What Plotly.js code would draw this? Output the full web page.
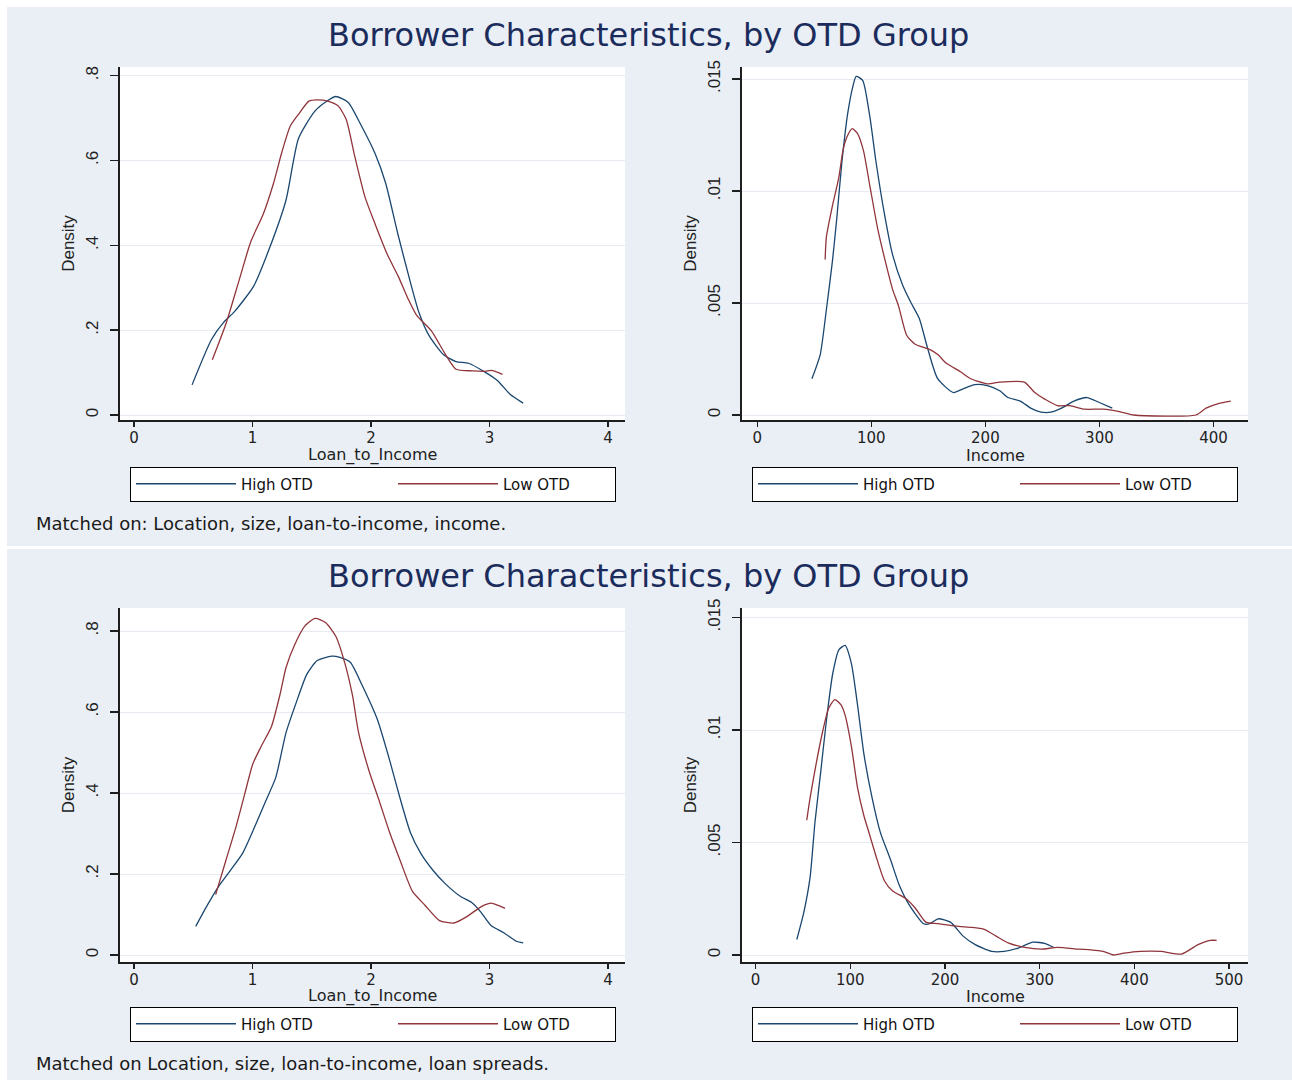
<!DOCTYPE html>
<html>
<head>
<meta charset="utf-8">
<script src="https://cdn.plot.ly/plotly-3.0.1.min.js"></script>
<style>
  html, body { margin: 0; padding: 0; background: #ffffff; }
  #chart { width: 1292px; height: 1080px; }
</style>
</head>
<body>
<div id="chart"></div>
<script>
// ---------------- DATA ----------------
const chartTitle = "Borrower Characteristics, by OTD Group";
const seriesNames = ["High OTD", "Low OTD"];
const noteTop = "Matched on: Location, size, loan-to-income, income.";
const noteBottom = "Matched on Location, size, loan-to-income, loan spreads.";
const xTitleLTI = "Loan_to_Income";
const xTitleIncome = "Income";
const yTitle = "Density";

const ltiTickVals = [0, 1, 2, 3, 4];
const ltiTickText = ["0", "1", "2", "3", "4"];
const ltiDensTickVals = [0, 0.2, 0.4, 0.6, 0.8];
const ltiDensTickText = ["0", ".2", ".4", ".6", ".8"];
const incTickValsTop = [0, 100, 200, 300, 400];
const incTickTextTop = ["0", "100", "200", "300", "400"];
const incTickValsBot = [0, 100, 200, 300, 400, 500];
const incTickTextBot = ["0", "100", "200", "300", "400", "500"];
const incDensTickVals = [0, 0.005, 0.01, 0.015];
const incDensTickText = ["0", ".005", ".01", ".015"];

// Top panel, Loan_to_Income
const tlHighX = [0.49,0.654,0.758,0.846,1.01,1.143,1.283,1.388,1.528,1.633,1.703,1.808,1.913,2.035,2.123,2.228,2.333,2.403,2.49,2.613,2.717,2.823,2.962,3.068,3.173,3.284];
const tlHighY = [0.071,0.178,0.219,0.243,0.304,0.393,0.507,0.652,0.717,0.741,0.751,0.737,0.685,0.616,0.547,0.425,0.312,0.243,0.187,0.142,0.126,0.122,0.101,0.081,0.049,0.028];
const tlLowX = [0.661,0.776,0.881,0.986,1.091,1.178,1.248,1.318,1.388,1.476,1.546,1.633,1.721,1.791,1.861,1.948,2.035,2.14,2.228,2.316,2.385,2.508,2.63,2.717,2.857,2.962,3.015,3.11];
const tlLowY = [0.130,0.215,0.312,0.409,0.474,0.547,0.620,0.681,0.709,0.740,0.743,0.740,0.729,0.697,0.612,0.515,0.450,0.377,0.328,0.272,0.235,0.199,0.142,0.108,0.104,0.103,0.105,0.096];

// Top panel, Income
const trHighX = [47.9,55.2,60.6,65.9,69.6,74.3,79.4,84.1,86.7,92.4,98.6,104,111.3,118.5,127.5,134.7,142,149.2,158.2,172,180,190.8,201.7,212.6,219.8,230.7,239.7,248.7,257.7,266.8,277.6,289.2,299.4,311.3];
const trHighY = [0.00162,0.0027,0.00471,0.00687,0.00872,0.01134,0.0135,0.01473,0.01512,0.01494,0.01335,0.01134,0.00903,0.00718,0.00579,0.00502,0.00432,0.00301,0.00162,0.001,0.00116,0.00136,0.00131,0.00108,0.00078,0.00062,0.00031,0.00013,0.00013,0.00031,0.00062,0.00078,0.00057,0.00031];
const trLowX = [59.5,60.6,65.9,71.4,75.1,78.7,83.3,87.7,93.1,98.6,105.8,113,118.5,123.9,131.1,138.4,151,158.3,165.5,178.2,187.2,201.7,212.6,234.2,243.3,252.4,263.2,274,286.7,303,317.5,330.2,384.5,393.5,404.3,415.2];
const trLowY = [0.00694,0.00795,0.00934,0.01057,0.0118,0.01242,0.01278,0.01258,0.0118,0.01026,0.00826,0.00671,0.00563,0.00486,0.00355,0.00316,0.00293,0.0027,0.00232,0.00193,0.00162,0.00139,0.00147,0.00147,0.001,0.0007,0.00042,0.00042,0.00026,0.00026,0.00015,0,0,0.00031,0.00051,0.00062];

// Bottom panel, Loan_to_Income
const blHighX = [0.521,0.619,0.706,0.811,0.916,1.003,1.108,1.196,1.283,1.371,1.458,1.546,1.668,1.738,1.825,1.93,2.053,2.158,2.245,2.333,2.42,2.526,2.63,2.753,2.857,2.927,3.015,3.12,3.225,3.284];
const blHighY = [0.0706,0.123,0.166,0.208,0.251,0.306,0.378,0.438,0.549,0.625,0.693,0.727,0.738,0.735,0.723,0.663,0.582,0.48,0.387,0.302,0.251,0.208,0.175,0.145,0.128,0.106,0.072,0.055,0.034,0.03];
const blLowX = [0.689,0.776,0.863,0.933,1.003,1.073,1.161,1.231,1.283,1.354,1.441,1.528,1.616,1.703,1.773,1.843,1.895,1.983,2.071,2.158,2.245,2.35,2.455,2.578,2.7,2.805,2.927,3.015,3.068,3.131];
const blLowY = [0.149,0.234,0.319,0.396,0.472,0.515,0.565,0.642,0.71,0.765,0.812,0.831,0.821,0.787,0.727,0.642,0.549,0.455,0.379,0.302,0.234,0.157,0.123,0.085,0.079,0.094,0.119,0.128,0.123,0.115];

// Bottom panel, Income
const brHighX = [43.5,51,57.5,62.7,68.5,75,81.4,88,94.5,101.1,107.6,114.2,123,131.7,142.6,151.3,162.2,177.4,183.9,192.7,205.8,218.8,231.9,249.3,262.4,277.6,292.9,306,314.7];
const brHighY = [0.00069,0.00192,0.00345,0.00591,0.00805,0.01051,0.0125,0.01357,0.01376,0.01296,0.01112,0.00897,0.00698,0.00545,0.00422,0.00315,0.00223,0.00139,0.00139,0.00161,0.00146,0.00085,0.00046,0.00016,0.00016,0.00031,0.00057,0.00051,0.00034];
const brLowX = [54,57.5,64,70.6,77.1,83.7,90.2,94.5,101.1,107.6,114.2,120.7,127.3,136,144.7,157.8,168.7,179.7,192.7,214.5,227.6,240.7,253.6,266.7,284.2,301.6,319,340.9,353.9,367,377.9,388.8,406.3,428.1,449.8,467.2,480.3,486.9];
const brLowY = [0.00599,0.00698,0.00852,0.0099,0.01097,0.01135,0.01112,0.01066,0.00928,0.00744,0.00621,0.0053,0.00437,0.0033,0.00284,0.00253,0.00208,0.00146,0.00139,0.00127,0.00123,0.00115,0.00085,0.00054,0.00034,0.00026,0.00034,0.00026,0.00023,0.00016,0,0.00008,0.00016,0.00016,0.00004,0.00046,0.00065,0.00065];

// ---------------- STYLE ----------------
const W = 1292, H = 1080;
const FONT = "DejaVu Sans, Verdana, sans-serif";
const NARROW = "Liberation Sans Narrow, Liberation Sans, Arial, sans-serif";
const BLUE = "#1a476f";
const RED = "#90353b";
const PANEL = "#eaeff5";
const GRID = "#e6ebf1";
const AX = "#1e1e1e";
const fx = p => p / W;
const fy = p => 1 - p / H;

function line(x, y, name, color, xa, ya, legendId, lw) {
  return {
    type: "scatter", mode: "lines", x: x, y: y, name: name,
    xaxis: xa, yaxis: ya, legend: legendId, legendwidth: lw,
    line: { color: color, width: 1.3, shape: "spline", smoothing: 0.6 },
    hoverinfo: "skip"
  };
}

const traces = [
  line(tlHighX, tlHighY, seriesNames[0], BLUE, "x", "y", "legend", 147),
  line(tlLowX, tlLowY, seriesNames[1], RED, "x", "y", "legend", 107),
  line(trHighX, trHighY, seriesNames[0], BLUE, "x2", "y2", "legend2", 147),
  line(trLowX, trLowY, seriesNames[1], RED, "x2", "y2", "legend2", 107),
  line(blHighX, blHighY, seriesNames[0], BLUE, "x3", "y3", "legend3", 147),
  line(blLowX, blLowY, seriesNames[1], RED, "x3", "y3", "legend3", 107),
  line(brHighX, brHighY, seriesNames[0], BLUE, "x4", "y4", "legend4", 147),
  line(brLowX, brLowY, seriesNames[1], RED, "x4", "y4", "legend4", 107)
];

function xAxis(domainPx, range, tv, tt, anchor) {
  return {
    domain: [fx(domainPx[0]), fx(domainPx[1])], anchor: anchor, range: range,
    tickmode: "array", tickvals: tv, ticktext: tt,
    showgrid: false, zeroline: false, showline: true, linecolor: AX, linewidth: 1.5,
    ticks: "outside", ticklen: 5, tickwidth: 1.5, tickcolor: AX, ticklabelstandoff: -2,
    tickfont: { family: FONT, size: 15, color: "#222" },
    fixedrange: true
  };
}
function yAxis(domainPx, range, tv, tt, anchor) {
  return {
    domain: [fy(domainPx[1]), fy(domainPx[0])], anchor: anchor, range: range,
    tickmode: "array", tickvals: tv, ticktext: tt, tickangle: -90,
    showgrid: true, gridcolor: GRID, gridwidth: 1,
    zeroline: false, showline: true, linecolor: AX, linewidth: 2,
    ticks: "outside", ticklen: 8, tickwidth: 1.5, tickcolor: AX, ticklabelstandoff: 5,
    tickfont: { family: NARROW, size: 17, color: "#222" },
    title: { text: yTitle, font: { family: NARROW, size: 17, color: "#222" }, standoff: 4 },
    fixedrange: true
  };
}
function legendAt(xPx, yCenterPx) {
  return {
    x: fx(xPx), y: fy(yCenterPx), xanchor: "left", yanchor: "middle",
    orientation: "h", bgcolor: "#ffffff", bordercolor: "#000000", borderwidth: 1,
    font: { family: FONT, size: 15, color: "#111" }, itemwidth: 100,
    traceorder: "normal", itemclick: false, itemdoubleclick: false
  };
}
function axisTitle(text, xPx, yPx) {
  return { text: text, xref: "paper", yref: "paper", x: fx(xPx), y: fy(yPx),
    xanchor: "center", yanchor: "middle", showarrow: false,
    font: { family: FONT, size: 16, color: "#222" } };
}

const layout = {
  width: W, height: H,
  margin: { l: 0, r: 0, t: 0, b: 0 },
  paper_bgcolor: PANEL, plot_bgcolor: "#ffffff",
  showlegend: true,
  xaxis:  xAxis([120, 625], [-0.118, 4.143], ltiTickVals, ltiTickText, "y"),
  yaxis:  yAxis([67, 420], [-0.0118, 0.8205], ltiDensTickVals, ltiDensTickText, "x"),
  xaxis2: xAxis([742, 1248], [-13.4, 430.3], incTickValsTop, incTickTextTop, "y2"),
  yaxis2: yAxis([67, 420], [-0.000223, 0.015536], incDensTickVals, incDensTickText, "x2"),
  xaxis3: xAxis([120, 625], [-0.118, 4.143], ltiTickVals, ltiTickText, "y3"),
  yaxis3: yAxis([608, 962], [-0.01728, 0.8568], ltiDensTickVals, ltiDensTickText, "x3"),
  xaxis4: xAxis([742, 1248], [-14.4, 520.0], incTickValsBot, incTickTextBot, "y4"),
  yaxis4: yAxis([608, 962], [-0.000311, 0.015422], incDensTickVals, incDensTickText, "x4"),
  legend:  legendAt(130, 484),
  legend2: legendAt(752, 484),
  legend3: legendAt(130, 1024),
  legend4: legendAt(752, 1024),
  shapes: [
    { type: "rect", xref: "paper", yref: "paper", x0: 0, x1: fx(7), y0: 0, y1: 1, fillcolor: "#ffffff", line: { width: 0 }, layer: "below" },
    { type: "rect", xref: "paper", yref: "paper", x0: 0, x1: 1, y0: fy(7), y1: 1, fillcolor: "#ffffff", line: { width: 0 }, layer: "below" },
    { type: "rect", xref: "paper", yref: "paper", x0: 0, x1: 1, y0: fy(549), y1: fy(546), fillcolor: "#ffffff", line: { width: 0 }, layer: "below" }
  ],
  annotations: [
    { text: chartTitle, xref: "paper", yref: "paper", x: fx(648), y: fy(35), xanchor: "center", yanchor: "middle", showarrow: false, font: { family: FONT, size: 32, color: "#1b2c5c" } },
    { text: chartTitle, xref: "paper", yref: "paper", x: fx(648), y: fy(576), xanchor: "center", yanchor: "middle", showarrow: false, font: { family: FONT, size: 32, color: "#1b2c5c" } },
    axisTitle(xTitleLTI, 372, 455),
    axisTitle(xTitleIncome, 995, 455),
    axisTitle(xTitleLTI, 372, 996),
    axisTitle(xTitleIncome, 995, 996),
    { text: noteTop, xref: "paper", yref: "paper", x: fx(34), y: fy(523), xanchor: "left", yanchor: "middle", showarrow: false, font: { family: FONT, size: 18, color: "#1a1a1a" } },
    { text: noteBottom, xref: "paper", yref: "paper", x: fx(34), y: fy(1063), xanchor: "left", yanchor: "middle", showarrow: false, font: { family: FONT, size: 18, color: "#1a1a1a" } }
  ]
};

Plotly.newPlot("chart", traces, layout, { staticPlot: true, displayModeBar: false });
</script>
</body>
</html>
